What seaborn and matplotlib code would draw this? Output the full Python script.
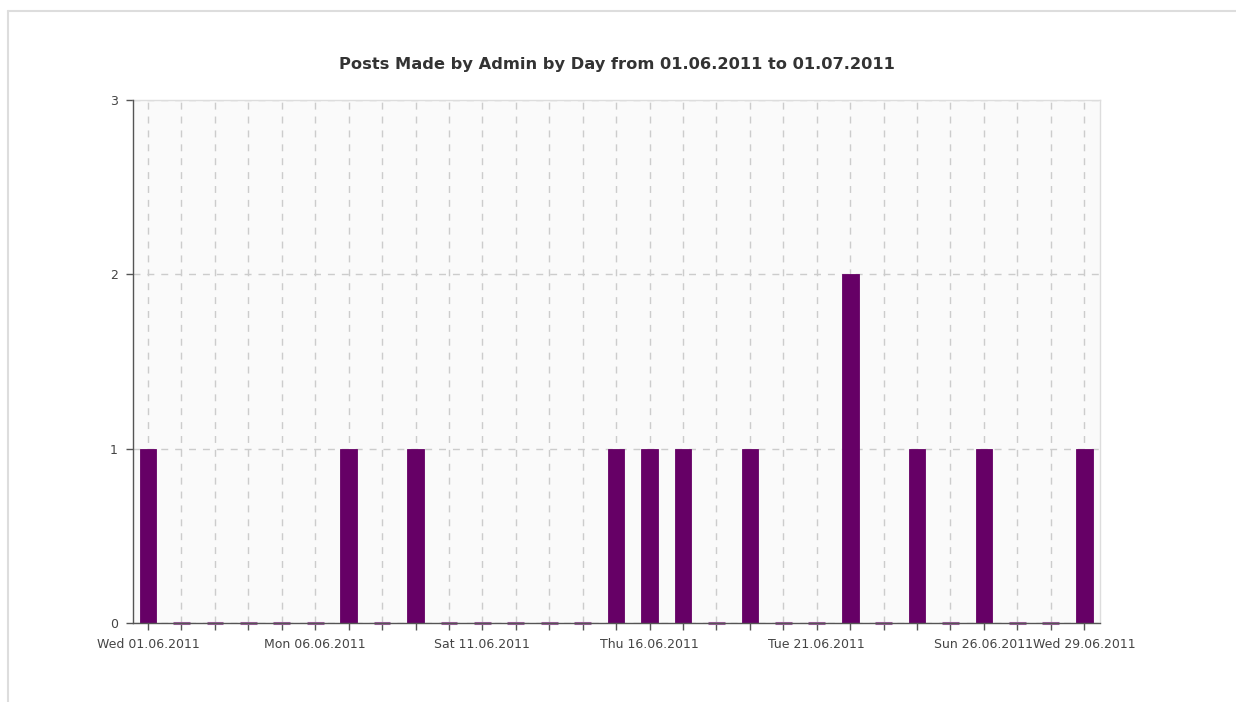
import matplotlib
matplotlib.use("Agg")
import matplotlib.pyplot as plt
import pandas as pd
import seaborn as sns
from matplotlib.lines import Line2D

days = [f"{d:02d}.06.2011" for d in range(1, 30)]
weekdays = ["Wed", "Thu", "Fri", "Sat", "Sun", "Mon", "Tue"] * 5
posts = [1, 0, 0, 0, 0, 0, 1, 0, 1, 0,
         0, 0, 0, 0, 1, 1, 1, 0, 1, 0,
         0, 2, 0, 1, 0, 1, 0, 0, 1]
label_idx = [0, 5, 10, 15, 20, 25, 28]

df = pd.DataFrame({"day": days, "posts": posts})

sns.set_theme(style="white")
plt.rcParams["font.family"] = ["DejaVu Sans"]

fig = plt.figure(figsize=(12.36, 7.02), dpi=100)
ax = fig.add_axes([0.1076, 0.1125, 0.7826, 0.745])
ax.set_facecolor("#fafafa")

sns.barplot(data=df, x="day", y="posts", color="#660066", saturation=1,
            width=0.5, ax=ax, zorder=3)
for p, v in zip(ax.patches, posts):
    if v == 0:
        # empty days are drawn as a short stub on the axis
        p.set_edgecolor("#a060a0")
        p.set_linewidth(2.2)
        p.set_clip_on(False)
    else:
        p.set_edgecolor("#660066")
        p.set_linewidth(0.6)

ax.set_xlim(-0.45, len(days) - 0.52)
ax.set_ylim(0, 3)
ax.set_yticks([0, 1, 2, 3])
ax.set_xticks(range(len(days)))
ax.set_xticklabels([f"{weekdays[i]} {days[i]}" if i in label_idx else "" for i in range(len(days))])
ax.set_xlabel("")
ax.set_ylabel("")

ax.grid(True, axis="both", color="#cccccc", linestyle=(0, (5, 5)), linewidth=1, zorder=0)
ax.set_axisbelow(True)

for s in ["top", "right"]:
    ax.spines[s].set_color("#dddddd")
    ax.spines[s].set_linewidth(1)
for s in ["left", "bottom"]:
    ax.spines[s].set_color("#555555")
    ax.spines[s].set_linewidth(1)
    ax.spines[s].set_zorder(4)

ax.tick_params(axis="both", direction="out", length=5, width=1, color="#555555",
               labelsize=9, labelcolor="#444444", bottom=True, left=True, pad=6)

ax.set_title("Posts Made by Admin by Day from 01.06.2011 to 01.07.2011",
             fontsize=11.7, fontweight="bold", color="#333333", pad=22)

fig.add_artist(Line2D([8 / 1236, 1.0], [1 - 11 / 702, 1 - 11 / 702],
                      transform=fig.transFigure, color="#dddddd", linewidth=1.5))
fig.add_artist(Line2D([8 / 1236, 8 / 1236], [0.0, 1 - 11 / 702],
                      transform=fig.transFigure, color="#dddddd", linewidth=1.5))

fig.savefig("out.png", dpi=100)
